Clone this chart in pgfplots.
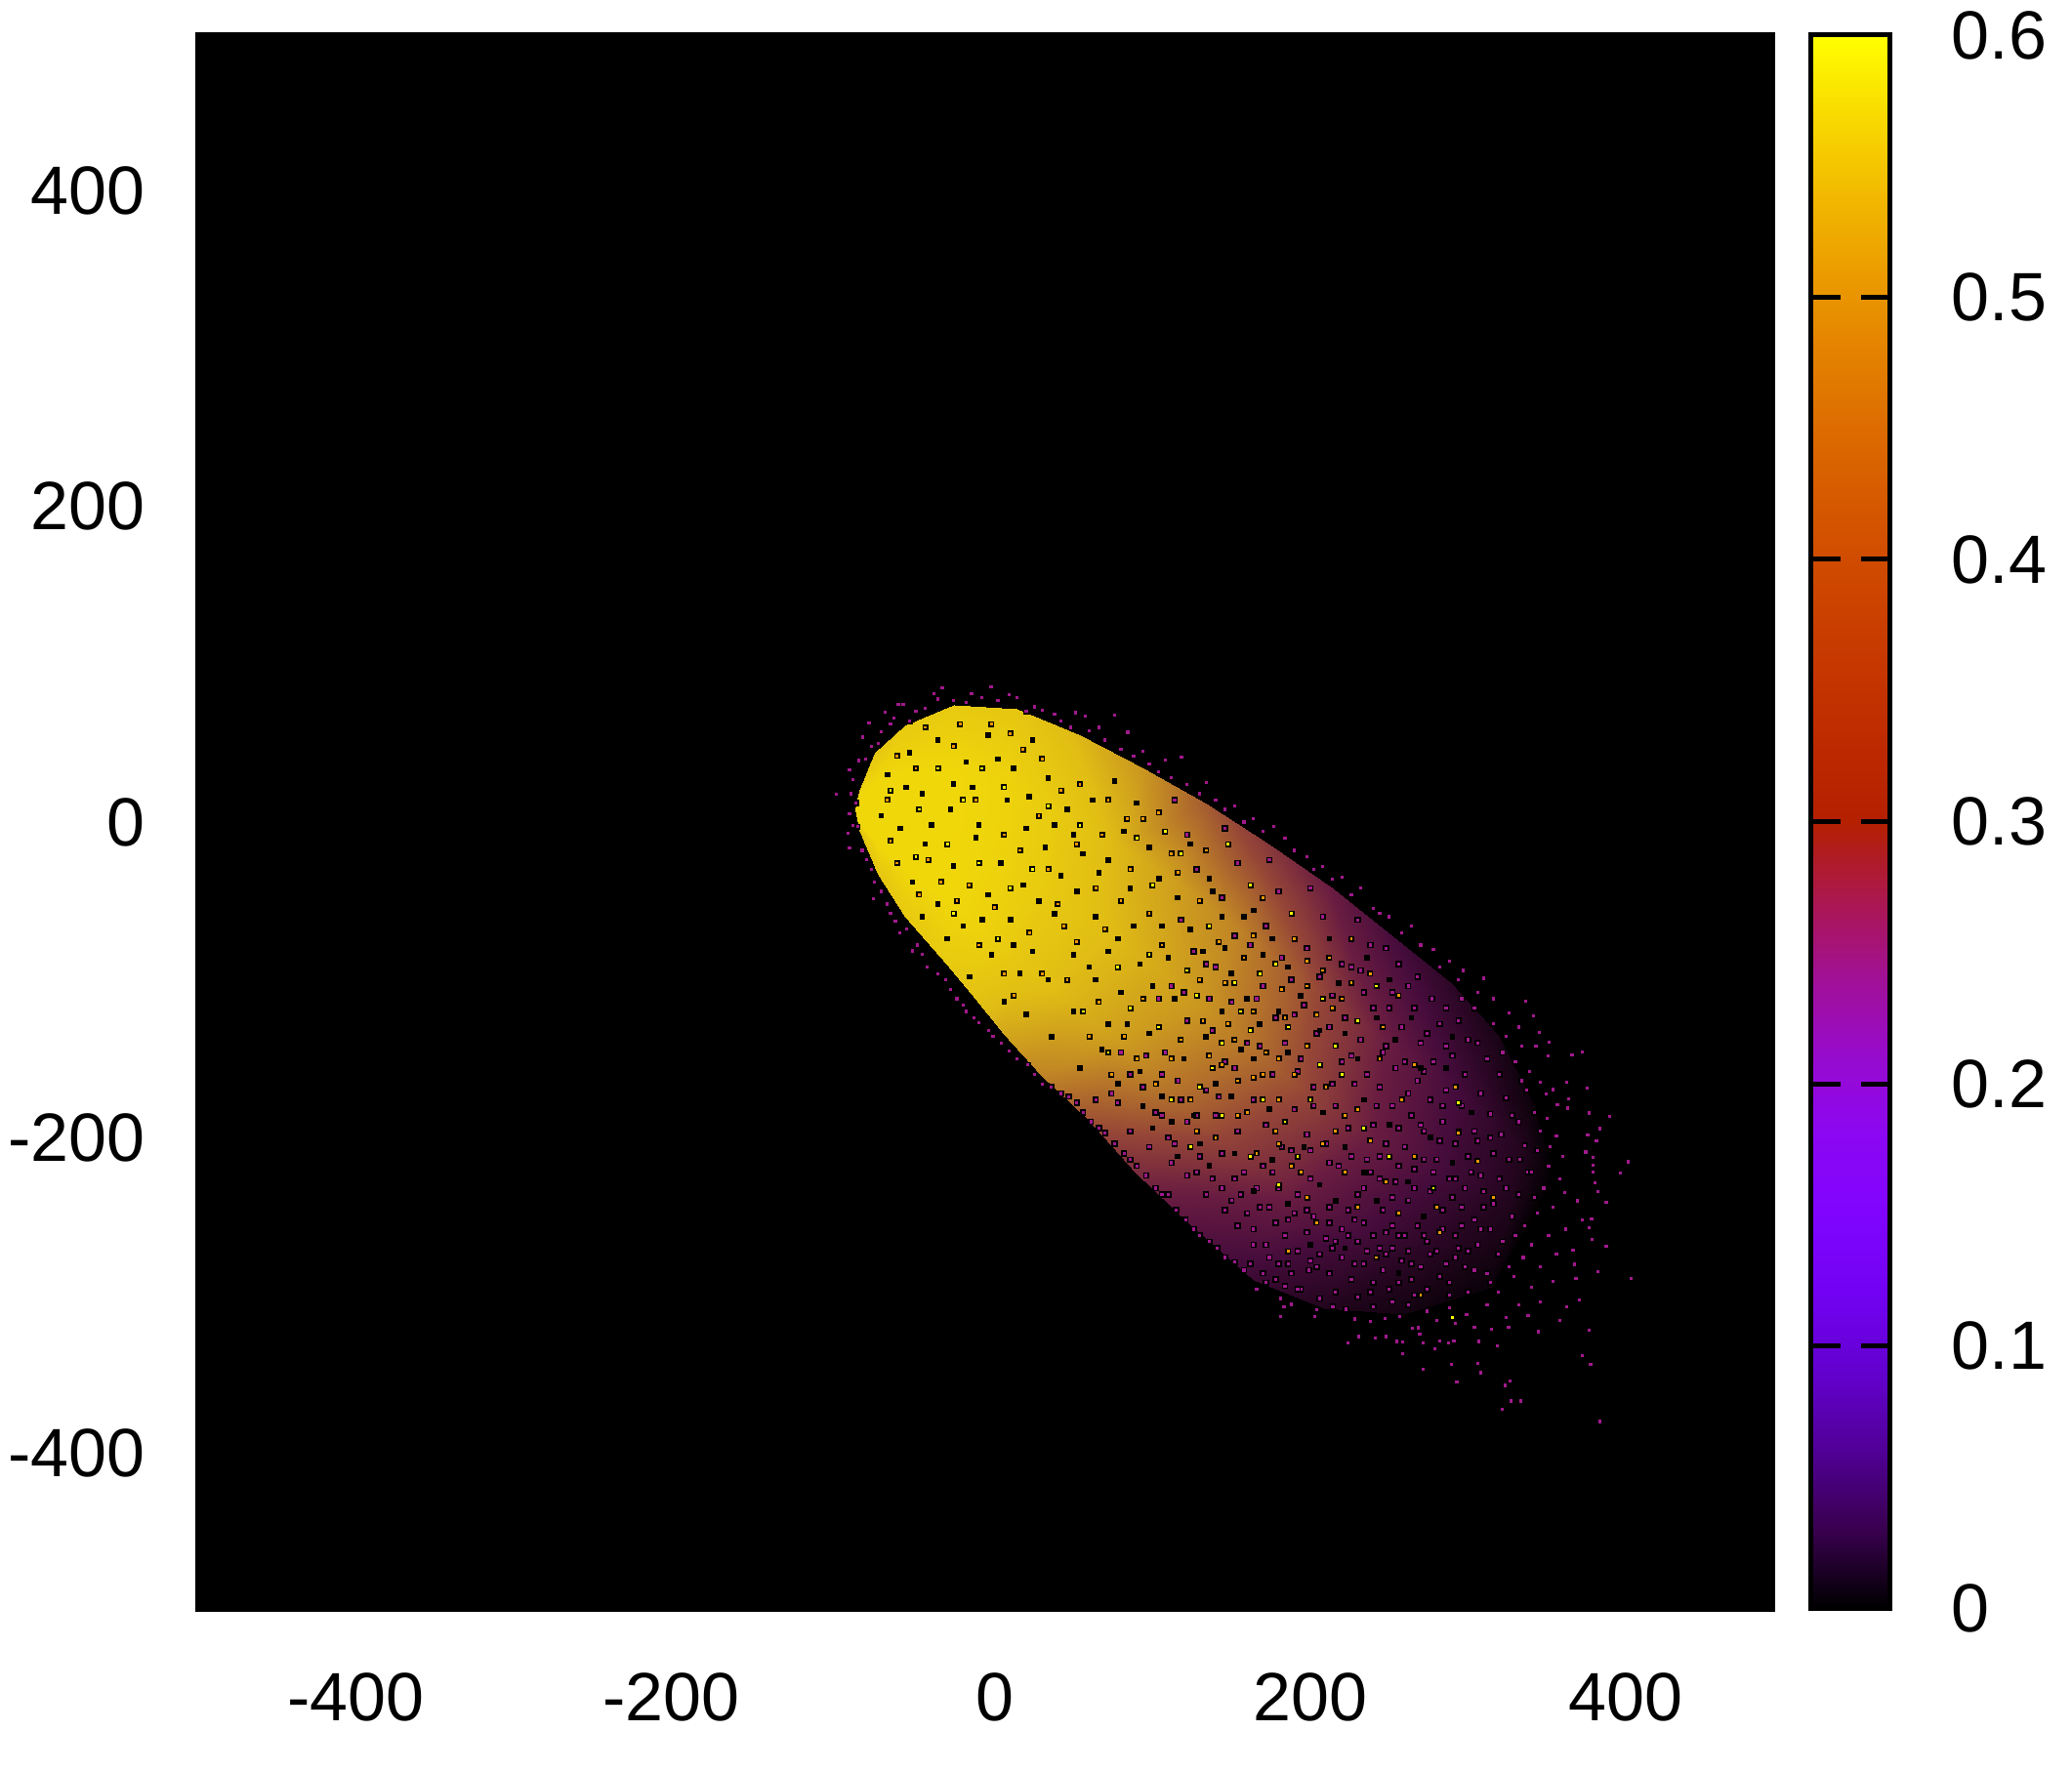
\documentclass[border=0pt]{standalone}
\usepackage{fontspec}
\setmainfont{Liberation Sans}
\usepackage{pgfplots}
\pgfplotsset{compat=1.18}
\definecolor{pur}{RGB}{160,25,140}
\definecolor{org}{RGB}{240,150,0}
\definecolor{yel}{RGB}{255,255,0}
\pgfplotsset{
  colormap={pm3d}{rgb=(0,0,0) rgb=(.224,0,.309) rgb=(.316,.001,.588) rgb=(.387,.003,.809) rgb=(.447,.008,.951) rgb=(.5,.016,1) rgb=(.548,.027,.951) rgb=(.592,.043,.809) rgb=(.632,.064,.588) rgb=(.671,.091,.309) rgb=(.707,.125,0) rgb=(.742,.166,0) rgb=(.775,.216,0) rgb=(.806,.275,0) rgb=(.837,.343,0) rgb=(.866,.422,0) rgb=(.894,.512,0) rgb=(.922,.614,0) rgb=(.949,.729,0) rgb=(.975,.857,0) rgb=(1,1,0)},
  colormap={tone}{rgb255=(0,0,0) rgb255=(35,5,30) rgb255=(70,12,60) rgb255=(105,28,65) rgb255=(150,70,55) rgb255=(190,130,38) rgb255=(225,190,20) rgb255=(240,215,10)},
}
\begin{document}
\begin{tikzpicture}
\path[use as bounding box] (-50.25pt,-41pt) rectangle (480.25pt,412.5pt);
\begin{axis}[
  scale only axis, width=404pt, height=404pt,
  xmin=-500, xmax=500, ymin=-500, ymax=500,
  axis background/.style={fill=black},
  axis line style={black, line width=0.25pt},
  major tick length=0pt, tick style={draw=none},
  xtick={-400,-200,0,200,400}, ytick={-400,-200,0,200,400},
  xticklabels={-400,-200,\hspace{4pt}0,\hspace{4pt}200,\hspace{4pt}400},
  yticklabels={-400,-200,0,200,400},
  tick label style={font=\fontsize{17.5}{20}\selectfont},
  every x tick label/.append style={anchor=base, yshift=-28pt, xshift=0.4pt},
  every y tick label/.append style={anchor=east, xshift=-9.6pt},
  colormap name=tone,
  point meta min=0, point meta max=1,
]
% mean tone of the cloud, section by section along its long axis
\addplot[surf, shader=interp, mesh/rows=15, mesh/cols=5, point meta=explicit] table[row sep=crcr, meta index=2]{
-80 20 .9\\-81 14 1\\-82 8 1\\-81 2 1\\-80 -5 .9\\
-70 44 .9\\-70 25 1\\-69 5 1\\-69 -14 1\\-68 -33 .9\\
-51 61 .92\\-51 31 1\\-51 0 1\\-51 -30 1\\-51 -60 .92\\
-20 74 .92\\-21 33 1\\-22 -9 1\\-24 -50 1\\-25 -90 .92\\
20 72 .9\\12 25 .98\\5 -23 .98\\-2 -70 .97\\-6 -112 .88\\
60 55 .84\\47 7 .92\\35 -41 .93\\22 -90 .9\\12 -134 .8\\
100 34 .76\\84 -15 .84\\67 -63 .87\\51 -112 .84\\35 -160 .72\\
140 12 .62\\121 -38 .78\\102 -88 .82\\84 -138 .78\\65 -188 .6\\
180 -14 .52\\159 -66 .72\\138 -118 .76\\116 -170 .68\\95 -222 .48\\
220 -42 .42\\197 -95 .62\\175 -148 .66\\152 -202 .56\\130 -255 .36\\
255 -70 .3\\234 -125 .5\\212 -180 .54\\191 -235 .44\\170 -290 .24\\
295 -102 .18\\275 -154 .36\\255 -205 .4\\235 -257 .3\\215 -308 .14\\
325 -135 .1\\310 -179 .24\\295 -224 .26\\280 -268 .18\\265 -312 .08\\
347 -178 .05\\340 -207 .14\\333 -237 .14\\327 -266 .1\\320 -295 .04\\
360 -225 0\\360 -225 0\\360 -225 0\\360 -225 0\\360 -225 0\\
};
% purple points
\addplot[only marks, mark=square*, mark size=0.6pt, mark options={fill=pur,draw=none}] table[row sep=crcr]{
342.6 -113.7\\347.6 -122.6\\351.3 -133.3\\357.5 -139.5\\356.7 -148.3\\371.9 -147.7\\378.5 -145.7\\368.6 -164.8\\381.6 -168.6\\359.6 -169.6\\355.4 -172.5\\369.5 -175.6\\369.3 -181.3\\362.6 -179.3\\395.7 -186.5\\382.7 -184.4\\389.5 -194.3\\381.8 -198.5\\387.4 -202.2\\380.6 -209.2\\385.3 -212.5\\385.3 -217.4\\407.4 -215.4\\402.5 -222.4\\385.3 -221.6\\386.4 -228.8\\388.4 -234.3\\393.6 -241.2\\375.4 -240.1\\378.5 -252.1\\384.3 -251.5\\382.9 -257.2\\384.7 -264.3\\393.6 -269\\372.5 -271.1\\373.6 -280.3\\388.4 -285.1\\409.5 -289.2\\374.4 -289.2\\376.5 -303\\368.4 -307.2\\364.3 -316\\382.7 -322.2\\378.5 -338.1\\383.7 -343.9\\350.7 -323\\331.7 -320.2\\320.8 -321.6\\324.5 -331.9\\332.7 -354.2\\329.6 -357.1\\333.4 -367\\339.5 -367\\327.8 -372.1\\389.5 -380\\312.1 -343.3\\313.8 -349\\298.9 -355\\295.6 -343.9\\277.7 -347\\264.7 -337.1\\284.9 -334\\293.5 -329.9\\297 -328.8\\312.7 -329.2\\287.8 -328.8\\277.7 -329.9\\264.3 -329.4\\261 -329.2\\254 -326.1\\247.1 -326.8\\236.8 -326.1\\230 -329.9\\234.1 -315\\270.9 -321\\274.6 -320.6\\275.4 -324.7\\187.3 -313.4\\189.4 -307.2\\187.3 -302\\194.1 -305.7\\209 -313.4\\210 -309.2\\220.3 -307.2\\228.6 -308.8\\244 -316.4\\253.3 -314.8\\262.6 -313.4\\
-27.2 85.3\\3.7 85.8\\-32.4 81.6\\-55.1 74.8\\-52 74.8\\-63.4 69.7\\-73.7 62.7\\-77.8 53.8\\-86 33.2\\-94.3 17.7\\-85 18\\-86 5.3\\-87 -7\\-86 -16.3\\-71 -48.7\\-54 -70\\-46 -81.7\\82 67.8\\90.3 56.9\\114 39.4\\124.4 41\\57.3 69.3\\43.9 68.2\\63.5 67.2\\15 80.6\\-8.7 81.6\\-30 78\\-44 70\\-60 62\\-66 57\\-72 48\\-80 39\\-84 27\\-82 12\\-81 -3\\-75 -24\\-70 -38\\-62 -52\\-57 -63\\-43 -78\\-37 -92\\-25 -100\\-18 -112\\-12 -120\\-4 -127\\5 -136\\15 -145\\27 -154\\36 -166\\48 -172\\58 -178\\67 -190\\76 -197\\88 -210\\96 -218\\108 -232\\116 -236\\127 -252\\136 -262\\147 -270\\158 -279\\172 -296\\
20 79\\31 73\\72 60\\100 45\\110 32\\140 25\\146 14\\158 10\\170 2\\183 -3\\190 -10\\204 -22\\214 -28\\226 -35\\238 -42\\246 -55\\256 -60\\270 -66\\284 -81\\294 -88\\303 -94\\316 -99\\322 -112\\332 -121\\
-76 40\\-68 50\\-58 66\\-48 64\\-38 72\\-20 77\\-12 76\\-2 79\\8 77\\26 70\\36 71\\48 64\\54 60\\66 58\\76 52\\86 46\\94 42\\104 37\\118 28\\128 24\\136 18\\152 8\\164 0\\176 -6\\196 -18\\208 -30\\220 -36\\232 -46\\250 -58\\264 -70\\276 -78\\288 -92\\300 -100\\312 -108\\
-84 -2\\-78 -18\\-72 -30\\-66 -44\\-60 -58\\-50 -68\\-40 -84\\-30 -96\\-22 -106\\-14 -116\\-7 -124\\2 -132\\10 -140\\20 -150\\31 -160\\42 -168\\53 -174\\62 -184\\72 -194\\82 -204\\92 -214\\102 -224\\112 -236\\121 -246\\132 -258\\142 -266\\152 -276\\164 -284\\178 -292\\
310 -118\\322 -128\\330 -136\\340 -142\\336 -152\\345 -158\\352 -165\\343 -170\\348 -184\\356 -188\\352 -196\\362 -199\\358 -206\\366 -212\\357 -218\\364 -226\\354 -232\\367 -235\\360 -244\\350 -248\\368 -258\\357 -262\\346 -268\\362 -274\\352 -282\\341 -276\\360 -291\\346 -295\\335 -288\\352 -304\\338 -306\\325 -298\\344 -313\\330 -314\\318 -306\\305 -312\\298 -318\\310 -320\\286 -316\\294 -308\\280 -310\\268 -306\\258 -304\\246 -307\\236 -301\\222 -298\\212 -302\\200 -296\\190 -294\\
330 -175\\338 -190\\327 -198\\342 -205\\332 -214\\344 -222\\326 -226\\338 -236\\322 -242\\334 -250\\320 -258\\336 -262\\312 -268\\325 -274\\304 -282\\318 -286\\294 -292\\306 -298\\280 -296\\270 -290\\256 -296\\246 -292\\232 -290\\218 -286\\205 -284\\194 -286\\
318 -150\\326 -160\\314 -172\\320 -185\\310 -196\\322 -210\\308 -222\\316 -234\\302 -244\\310 -252\\298 -262\\306 -272\\286 -272\\292 -280\\276 -282\\264 -278\\252 -284\\240 -280\\226 -276\\212 -274\\198 -272\\186 -280\\176 -286\\168 -280\\
300 -126\\306 -138\\296 -148\\304 -160\\292 -170\\302 -180\\290 -190\\298 -204\\286 -214\\294 -226\\282 -234\\290 -246\\274 -256\\280 -266\\262 -262\\268 -272\\250 -270\\236 -266\\
283 -112\\288 -128\\276 -140\\284 -152\\274 -164\\282 -176\\270 -186\\278 -196\\266 -206\\272 -220\\260 -228\\268 -240\\252 -246\\258 -256\\240 -254\\246 -262\\226 -258\\216 -264\\204 -260\\190 -262\\178 -268\\
262 -90\\268 -104\\256 -118\\264 -130\\254 -142\\260 -156\\250 -168\\258 -180\\246 -192\\254 -204\\242 -214\\250 -226\\236 -236\\230 -246\\218 -244\\208 -250\\196 -248\\184 -254\\170 -258\\160 -256\\152 -246\\
236 -62\\244 -78\\232 -92\\240 -108\\228 -124\\238 -138\\226 -152\\234 -166\\222 -180\\230 -194\\216 -204\\224 -218\\206 -226\\198 -236\\186 -232\\174 -244\\162 -236\\150 -232\\140 -236\\128 -224\\118 -216\\
206 -42\\214 -60\\204 -80\\212 -98\\202 -116\\210 -134\\200 -150\\208 -168\\196 -182\\204 -198\\188 -206\\176 -218\\164 -222\\
180 -24\\186 -44\\178 -66\\188 -86\\176 -104\\184 -124\\174 -142\\182 -160\\170 -176\\178 -192\\160 -196\\150 -210\\136 -212\\
152 -4\\160 -26\\150 -48\\158 -72\\146 -92\\156 -114\\144 -132\\152 -152\\140 -170\\146 -186\\128 -190\\116 -200\\104 -206\\92 -196\\
120 14\\128 -8\\134 -30\\124 -62\\132 -82\\118 -104\\128 -126\\114 -146\\122 -164\\100 -168\\108 -184\\84 -178\\70 -176\\
349 -142\\338 -130\\328 -146\\312 -140\\302 -112\\292 -118\\274 -98\\254 -80\\340 -164\\334 -186\\350 -208\\339 -214\\348 -238\\330 -232\\342 -256\\328 -266\\316 -244\\304 -232\\296 -238\\312 -202\\300 -196\\288 -202\\278 -214\\262 -218\\250 -212\\240 -232\\234 -252\\222 -266\\210 -282\\198 -296\\184 -290\\300 -270\\288 -288\\272 -300\\262 -292\\254 -274\\244 -298\\332 -282\\320 -292\\310 -284\\294 -300\\346 -222\\
272 -118\\280 -134\\266 -152\\292 -142\\278 -158\\268 -172\\290 -180\\276 -192\\262 -194\\248 -180\\242 -160\\252 -146\\246 -118\\258 -108\\238 -94\\226 -90\\220 -110\\218 -130\\232 -148\\220 -166\\208 -180\\198 -158\\190 -140\\196 -122\\194 -100\\168 -78\\172 -112\\166 -140\\158 -156\\148 -174\\134 -186\\124 -176\\112 -160\\102 -148\\92 -160\\80 -172\\86 -146\\110 -112\\126 -108\\140 -90\\142 -112\\
320 -200\\306 -212\\314 -224\\298 -226\\284 -222\\272 -232\\258 -238\\244 -222\\232 -212\\218 -216\\206 -208\\194 -208\\182 -222\\172 -232\\158 -226\\144 -226\\134 -222\\120 -204\\112 -186\\
302 -256\\290 -258\\278 -262\\266 -262\\254 -260\\242 -272\\230 -262\\218 -254\\204 -246\\192 -252\\180 -244\\166 -248\\156 -240\\
314 -258\\298 -276\\282 -274\\270 -280\\258 -270\\234 -280\\220 -270\\206 -278\\192 -280\\180 -276\\170 -268\\};
% orange points
\addplot[only marks, mark=square*, mark size=0.55pt, mark options={fill=org,draw=none}] table[row sep=crcr]{
300 -197\\312 -215\\322 -238\\286 -244\\288 -260\\276 -300\\298 -168\\272 -212\\262 -248\\254 -228\\248 -276\\236 -244\\228 -222\\210 -254\\204 -238\\192 -272\\264 -176\\272 -154\\252 -130\\262 -110\\244 -96\\250 -150\\236 -182\\222 -196\\216 -168\\226 -112\\232 -74\\210 -122\\204 -142\\194 -218\\184 -196\\172 -210\\166 -184\\178 -146\\188 -106\\196 -74\\176 -48\\164 -86\\154 -128\\160 -164\\146 -200\\130 -176\\118 -150\\138 -126\\148 -76\\136 -50\\122 -32\\112 -78\\100 -112\\96 -150\\80 -160\\66 -136\\52 -100\\76 -68\\92 -30\\100 2\\60 24\\74 -8\\40 -30\\28 -70\\12 -96\\-4 -78\\-18 -50\\-36 -24\\-60 -12\\-62 14\\-44 34\\-20 48\\4 62\\24 46\\-6 14\\12 -8\\
196 -160\\186 -176\\170 -162\\158 -138\\142 -148\\134 -196\\108 -166\\88 -136\\72 -114\\58 -76\\46 -52\\86 -50\\104 -58\\118 -20\\140 -18\\170 -72\\204 -104\\218 -86\\
-56 42\\-38 60\\-16 62\\16 56\\36 40\\48 20\\-28 -38\\-10 -40\\6 -54\\22 -18\\34 4\\-42 -46\\-56 -26\\58 -14\\70 -42\\50 -66\\36 -96\\18 -110\\78 14\\90 2\\110 6\\
244 -202\\228 -186\\214 -204\\200 -222\\186 -204\\176 -160\\190 -124\\204 -88\\220 -118\\232 -102\\214 -94\\160 -186\\150 -154\\124 -138\\136 -100\\152 -102\\170 -120\\186 -150\\};
% yellow points
\addplot[only marks, mark=square*, mark size=0.55pt, mark options={fill=yel,draw=none}] table[row sep=crcr]{
296 -314\\300 -178\\284 -232\\256 -212\\240 -194\\226 -160\\236 -126\\248 -104\\214 -112\\222 -142\\206 -176\\198 -212\\186 -230\\176 -176\\168 -132\\184 -90\\194 -58\\168 -40\\158 -102\\144 -156\\130 -206\\118 -176\\110 -130\\128 -94\\142 -66\\154 -14\\124 -20\\104 -84\\92 -118\\78 -146\\62 -120\\84 -92\\106 -40\\96 -10\\114 -6\\134 -110\\150 -140\\162 -120\\174 -96\\192 -130\\212 -154\\190 -190\\168 -212\\150 -186\\136 -168\\
-60 20\\-42 8\\-30 34\\-14 14\\-2 34\\12 22\\-24 -14\\-44 -22\\-4 -26\\16 -42\\40 10\\60 -2\\30 -30\\-20 -58\\8 -74\\};
% dark gaps
\addplot[only marks, mark=square*, mark size=0.5pt, mark options={fill=black,draw=none}] table[row sep=crcr]{
-62 30\\-48 44\\-30 52\\-12 38\\2 55\\18 34\\30 52\\-40 18\\-22 8\\-8 22\\14 14\\26 -4\\40 28\\52 8\\-54 -4\\-38 -14\\-20 -28\\-6 -10\\10 -26\\24 -40\\38 -16\\48 -34\\62 -20\\-46 -38\\-30 -52\\-14 -66\\2 -46\\16 -62\\30 -82\\44 -58\\58 -44\\72 -32\\68 14\\82 26\\88 -6\\78 -24\\96 12\\104 -16\\110 -36\\92 -42\\70 -60\\84 -74\\56 -84\\40 -100\\22 -96\\4 -84\\-10 -98\\12 -114\\26 -122\\42 -136\\56 -120\\70 -100\\86 -108\\98 -90\\112 -66\\122 -48\\130 -14\\142 -36\\150 -60\\138 -82\\120 -112\\104 -134\\90 -128\\74 -144\\60 -156\\84 -166\\98 -158\\112 -174\\126 -150\\140 -136\\156 -96\\170 -56\\182 -74\\166 -112\\150 -120\\170 -150\\156 -174\\132 -186\\106 -194\\122 -212\\142 -218\\158 -210\\180 -182\\192 -146\\200 -110\\192 -92\\218 -74\\212 -132\\228 -134\\224 -102\\242 -86\\256 -100\\248 -124\\236 -150\\214 -184\\202 -206\\182 -214\\170 -234\\192 -242\\212 -230\\228 -206\\240 -176\\260 -138\\270 -124\\276 -156\\256 -192\\240 -222\\222 -240\\206 -268\\228 -270\\248 -240\\268 -228\\282 -200\\292 -156\\296 -136\\308 -184\\296 -216\\278 -250\\262 -286\\
-66 4\\-50 22\\-34 -2\\-20 24\\-4 -2\\8 40\\28 16\\44 -2\\56 -8\\34 -50\\18 -78\\-2 -62\\-24 -74\\-40 -60\\66 -92\\78 -82\\94 -66\\106 -104\\116 -86\\130 -68\\144 -44\\152 -80\\164 -60\\176 -84\\186 -120\\174 -128\\162 -144\\146 -166\\136 -204\\118 -190\\100 -180\\78 -128\\};
\end{axis}
\begin{axis}[
  at={(413.375pt,0.75pt)}, anchor=south west,
  scale only axis, width=20.25pt, height=402.75pt,
  xmin=0, xmax=1, ymin=0, ymax=0.6,
  colormap name=pm3d, point meta min=0, point meta max=0.6,
  axis on top,
  axis line style={black, line width=1.25pt},
  xtick=\empty,
  ytick={0,0.1,0.2,0.3,0.4,0.5,0.6},
  yticklabels={0,0.1,0.2,0.3,0.4,0.5,0.6},
  yticklabel pos=right, ytick pos=both, tick align=inside,
  major tick length=7.5pt,
  tick style={black, line width=1.25pt},
  every y tick label/.append style={anchor=west, xshift=12.25pt, font=\fontsize{17.5}{20}\selectfont},
]
\addplot[surf, shader=interp, mesh/rows=2, mesh/cols=2, point meta=explicit] table[row sep=crcr, meta index=2]{
0 0 0\\1 0 0\\
0 0.6 0.6\\1 0.6 0.6\\
};
\end{axis}
\end{tikzpicture}
\end{document}
